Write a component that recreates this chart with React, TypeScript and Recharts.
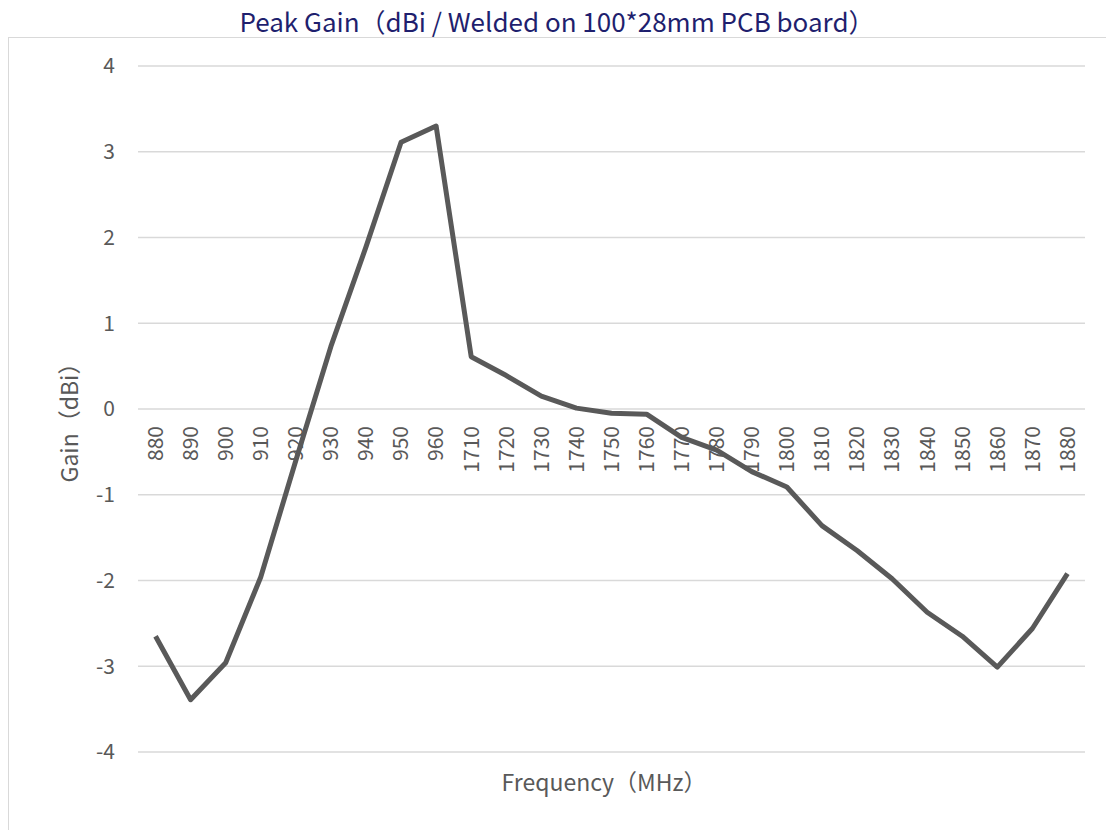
import React from 'react';
import { LineChart, Line, XAxis, YAxis, CartesianGrid } from 'recharts';

const categories = ['880','890','900','910','920','930','940','950','960','1710','1720','1730','1740','1750','1760','1770','1780','1790','1800','1810','1820','1830','1840','1850','1860','1870','1880'];
const gain = [-2.65,-3.39,-2.96,-1.96,-0.6,0.73,1.89,3.11,3.30,0.61,0.39,0.15,0.01,-0.05,-0.06,-0.33,-0.48,-0.73,-0.91,-1.36,-1.65,-1.98,-2.37,-2.65,-3.01,-2.56,-1.92];
const yTicks = [-4,-3,-2,-1,0,1,2,3,4];
const titleText = 'Peak Gain（dBi / Welded on 100*28mm PCB board）';
const xTitle = 'Frequency（MHz）';
const yTitle = 'Gain（dBi）';

const data = categories.map((c, i) => ({ freq: c, gain: gain[i] }));

const W = 1106;
const H = 830;
const TOP = 66;
const BOTTOM = 752;
const LEFT = 138;
const RIGHT = 1085;
const YAXIS_W = 60;
const XAXIS_H = 20;
const FONT = '"Noto Sans CJK SC", "Noto Sans", sans-serif';
const GRAY = '#595959';

const ZERO_Y = TOP + (BOTTOM - TOP) / 2;
const HALF_BAND = (RIGHT - LEFT) / categories.length / 2;

const XTick = (props: any) => {
  const { x, y, payload } = props;
  const ty = y - (BOTTOM - ZERO_Y) + 17;
  return (
    <text
      x={x}
      y={ty}
      dy="0.35em"
      transform={`rotate(-90, ${x}, ${ty})`}
      textAnchor="end"
      fill={GRAY}
      fontSize={21}
      fontFamily={FONT}
    >
      {payload.value}
    </text>
  );
};

export default function App() {
  return (
    <div style={{ position: 'absolute', left: 0, top: 0, width: W, height: H, overflow: 'hidden', background: '#fff' }}>
      <div style={{ position: 'absolute', left: 8, top: 37, width: W + 10, height: H, border: '1.5px solid #D9D9D9' }} />
      <div style={{ position: 'absolute', left: 4, top: 0, width: W, height: 40, display: 'flex', alignItems: 'center', justifyContent: 'center', fontFamily: FONT, fontSize: 26, color: '#1F1F6E', whiteSpace: 'nowrap' }}>
        {titleText}
      </div>
      <div style={{ position: 'absolute', left: 0, top: 0 }}>
        <LineChart width={W} height={H} data={data} margin={{ top: TOP, bottom: H - BOTTOM - XAXIS_H, left: LEFT - YAXIS_W, right: W - RIGHT }}>
          <CartesianGrid horizontal vertical={false} stroke="#D9D9D9" strokeWidth={1.5} />
          <XAxis
            dataKey="freq"
            axisLine={false}
            tickLine={false}
            tickSize={0}
            tickMargin={0}
            height={XAXIS_H}
            interval={0}
            padding={{ left: HALF_BAND, right: HALF_BAND }}
            tick={<XTick />}
          />
          <YAxis
            type="number"
            domain={[-4, 4]}
            ticks={yTicks}
            width={YAXIS_W}
            axisLine={false}
            tickLine={false}
            tickSize={0}
            tickMargin={23}
            tick={{ fill: GRAY, fontSize: 21, fontFamily: FONT }}
          />
          <Line type="linear" dataKey="gain" stroke={GRAY} strokeWidth={5} dot={false} strokeLinejoin="round" isAnimationActive={false} />
        </LineChart>
      </div>
      <div style={{ position: 'absolute', left: 68, top: 417, transform: 'translate(-50%, -50%) rotate(-90deg)', fontFamily: FONT, fontSize: 23, color: GRAY, whiteSpace: 'nowrap' }}>
        {yTitle}
      </div>
      <div style={{ position: 'absolute', left: 604, top: 781, transform: 'translate(-50%, -50%)', fontFamily: FONT, fontSize: 23, color: GRAY, whiteSpace: 'nowrap' }}>
        {xTitle}
      </div>
    </div>
  );
}
